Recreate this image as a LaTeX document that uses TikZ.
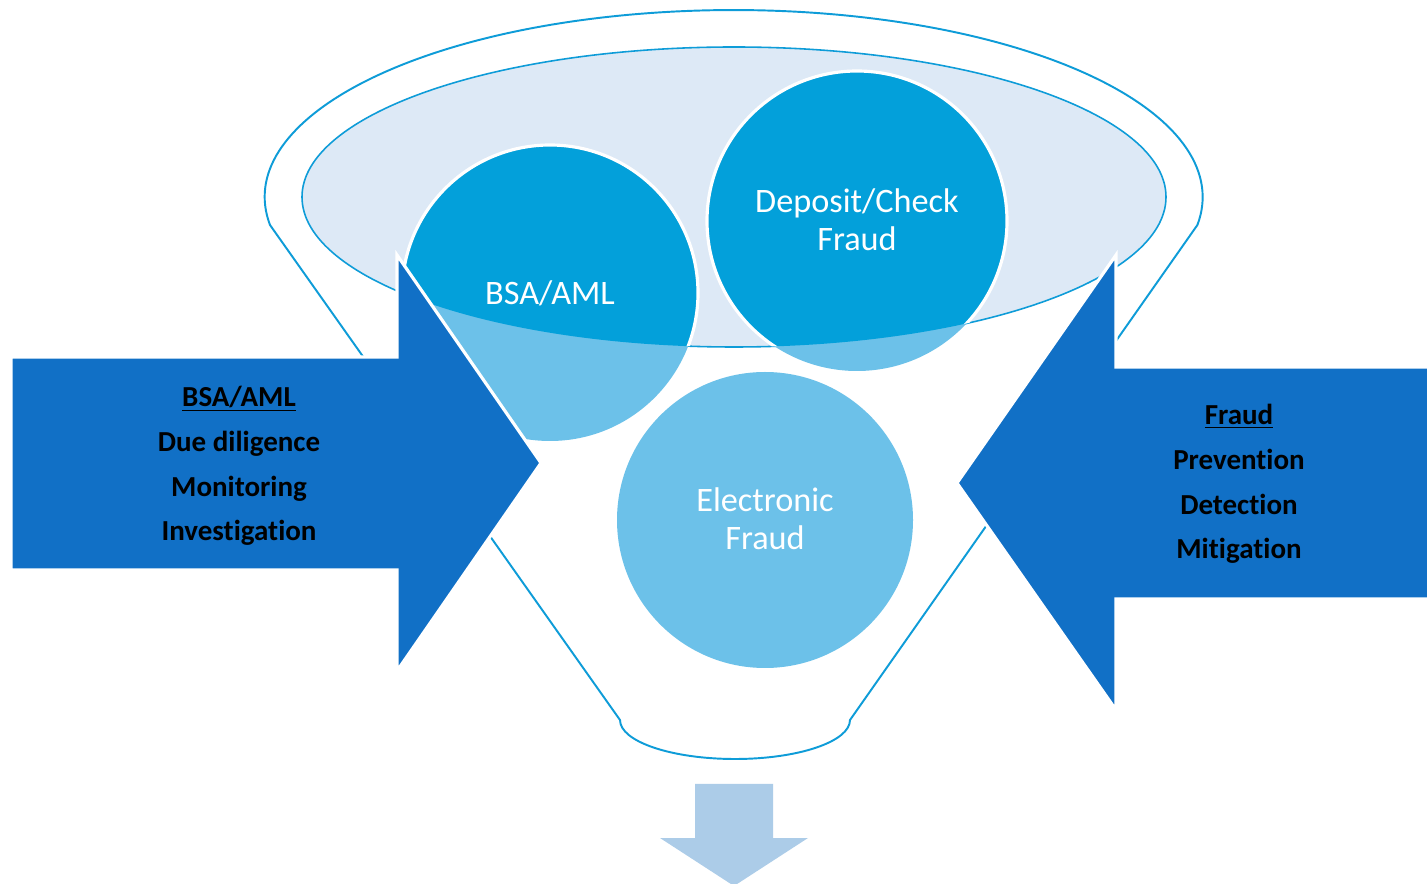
\documentclass[tikz,border=0pt]{standalone}
\usepackage{fontspec}
\setmainfont{Carlito}[Ligatures={NoCommon,NoContextual},Contextuals={NoAlternate}]
\definecolor{funnelline}{RGB}{14,156,216}
\definecolor{rimfill}{RGB}{221,233,246}
\definecolor{solidblue}{RGB}{3,160,218}
\definecolor{lightblue}{RGB}{108,193,233}
\definecolor{arrowblue}{RGB}{17,112,198}
\definecolor{downblue}{RGB}{172,204,232}
\tikzset{
  funnel/.style={draw=funnelline, line width=1.1pt, line join=round},
  rim/.style={draw=funnelline, fill=rimfill, line width=0.9pt},
  solidcircle/.style={fill=solidblue, draw=white, line width=1.8pt},
  lightcircle/.style={fill=lightblue},
  bigarrow/.style={fill=arrowblue, draw=white, line width=1.8pt, line join=miter},
  downarrow/.style={fill=downblue},
  circletext/.style={text=white, font=\fontsize{19.5}{21.5}\selectfont, align=center, inner sep=0pt},
  arrowtext/.style={text=black, font=\fontsize{16.5}{25.5}\selectfont\bfseries, align=center, inner sep=0pt}
}
\begin{document}
\begin{tikzpicture}[x=0.02cm,y=-0.02cm]
\useasboundingbox (0,0) rectangle (1427,884);
\fill[white] (0,0) rectangle (1427,884);
% funnel outline
\draw[funnel] (270,225) arc[start angle=171.4,end angle=368.6,x radius=469,y radius=187]
  -- (850,720) arc[start angle=0,end angle=180,x radius=115,y radius=39] -- cycle;
% rim (inner ellipse)
\draw[rim] (734,197) ellipse[x radius=432,y radius=150];
% circles, light parts
\fill[lightcircle] (550,293) circle[radius=148];
\fill[lightcircle] (857,221) circle[radius=150];
\begin{scope}
  \clip (734,197) ellipse[x radius=432,y radius=150];
  \filldraw[solidcircle] (550,293) circle[radius=148];
  \filldraw[solidcircle] (857,221) circle[radius=150];
\end{scope}
\fill[lightcircle] (765,520) circle[radius=148];
% arrows
\filldraw[bigarrow] (11,357) -- (397,357) -- (397,255) -- (541,463) -- (397,671) -- (397,570) -- (11,570) -- cycle;
\filldraw[bigarrow] (1440,367) -- (1116,367) -- (1116,255) -- (957,483) -- (1116,710) -- (1116,599) -- (1440,599) -- cycle;
\fill[downarrow] (695,784) -- (773,784) -- (773,838) -- (808,838) -- (734,886) -- (660,838) -- (695,838) -- cycle;
% texts
\node[circletext] (bsa) at (550,293) {BSA/AML};
\node[circletext] (dep) at (857,220) {Deposit/Check\\Fraud};
\node[circletext] (elec) at (765,519) {Electronic\\Fraud};
\node[arrowtext] (lefttxt) at (239,466) {\underline{BSA/AML}\\Due diligence\\Monitoring\\Invest\kern0pt igat\kern0pt ion};
\node[arrowtext] (righttxt) at (1239,484) {\underline{Fraud}\\Prevention\\Detection\\Mit\kern0pt igat\kern0pt ion};
\end{tikzpicture}
\end{document}
